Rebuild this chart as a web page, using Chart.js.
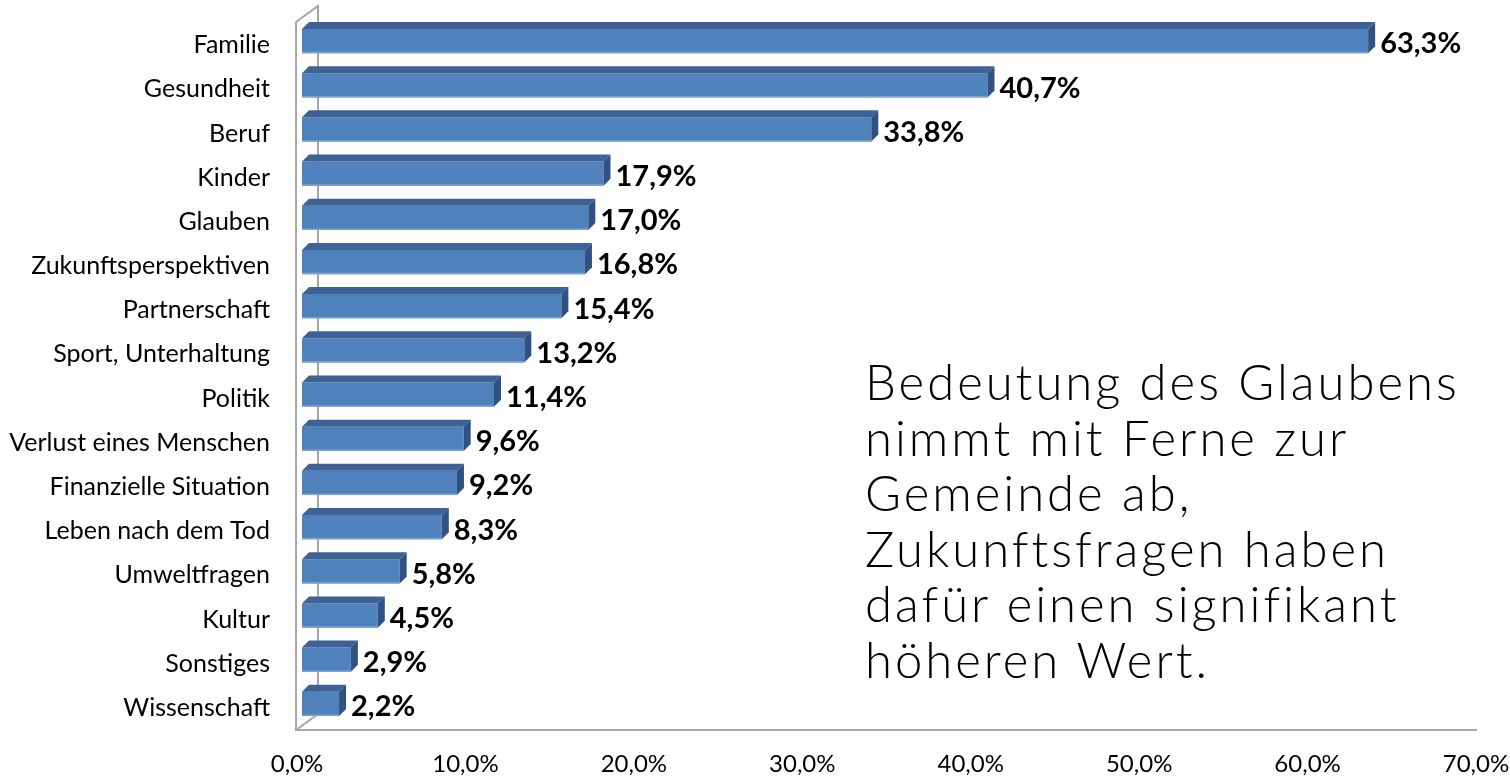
<!DOCTYPE html>
<html>
<head>
<meta charset="utf-8">
<script src="https://cdn.jsdelivr.net/npm/chart.js@4.4.1/dist/chart.umd.min.js"></script>
<style>
    body { margin: 0; background: #fff; }
    #wrap { position: relative; width: 1510px; height: 776px; }
    #note {
        position: absolute; left: 865px; top: 354px;
        font-family: Lato, sans-serif; font-weight: 300;
        font-size: 49px; line-height: 55.6px; letter-spacing: 3px; color: #000;
        white-space: nowrap;
    }
</style>
</head>
<body>
<div id="wrap">
    <canvas id="barChart"></canvas>
    <div id="note">Bedeutung des Glaubens<br>nimmt mit Ferne zur<br>Gemeinde ab,<br>Zukunftsfragen haben<br>dafür einen signifikant<br>höheren Wert.</div>
</div>
<script>
// Chart data
var categories = ["Familie", "Gesundheit", "Beruf", "Kinder", "Glauben", "Zukunftsperspektiven",
    "Partnerschaft", "Sport, Unterhaltung", "Politik", "Verlust eines Menschen", "Finanzielle Situation",
    "Leben nach dem Tod", "Umweltfragen", "Kultur", "Sonstiges", "Wissenschaft"];
var values = [63.3, 40.7, 33.8, 17.9, 17.0, 16.8, 15.4, 13.2, 11.4, 9.6, 9.2, 8.3, 5.8, 4.5, 2.9, 2.2];
var xTicks = [0, 10, 20, 30, 40, 50, 60, 70];

var DEPTH = 7;

function pct(v) {
    return v.toFixed(1).replace('.', ',') + '%';
}

// no automatic padding for tick labels, the layout is fixed
function noPad(scale) {
    scale.paddingTop = 0;
    scale.paddingBottom = 0;
    scale.paddingLeft = 0;
    scale.paddingRight = 0;
}

// 3D frame (wall and floor lines)
var framePlugin = {
    id: 'frame',
    beforeDatasetsDraw: function (chart) {
        var a = chart.chartArea;
        var ctx = chart.ctx;
        var fl = a.left - 6, fb = a.bottom + 4;
        var bl = a.left + 16, bb = a.bottom - 12;
        ctx.save();
        ctx.strokeStyle = '#a6a6a6';
        ctx.lineWidth = 2;
        ctx.beginPath();
        ctx.moveTo(fl, a.top + 3);
        ctx.lineTo(fl, fb);
        ctx.lineTo(a.right - 4, fb);
        ctx.moveTo(fl, a.top + 3);
        ctx.lineTo(bl, a.top - 13);
        ctx.lineTo(bl, bb);
        ctx.lineTo(fl, fb);
        ctx.stroke();
        ctx.restore();
    }
};

// Top and side faces of the bars, plus value labels
var boxPlugin = {
    id: 'box',
    afterDatasetsDraw: function (chart) {
        var ctx = chart.ctx;
        var meta = chart.getDatasetMeta(0);
        ctx.save();
        meta.data.forEach(function (bar, i) {
            var top = bar.y - bar.height / 2;
            var bot = bar.y + bar.height / 2;
            ctx.fillStyle = '#3d6293';
            ctx.beginPath();
            ctx.moveTo(bar.base, top);
            ctx.lineTo(bar.base + DEPTH, top - DEPTH);
            ctx.lineTo(bar.x + DEPTH, top - DEPTH);
            ctx.lineTo(bar.x, top);
            ctx.closePath();
            ctx.fill();
            ctx.fillStyle = '#2f5280';
            ctx.beginPath();
            ctx.moveTo(bar.x, top);
            ctx.lineTo(bar.x + DEPTH, top - DEPTH);
            ctx.lineTo(bar.x + DEPTH, bot - DEPTH);
            ctx.lineTo(bar.x, bot);
            ctx.closePath();
            ctx.fill();
            ctx.fillStyle = '#7fa3d1';
            ctx.fillRect(bar.base, bot - 1.5, bar.x - bar.base, 1.5);

            ctx.fillStyle = '#000';
            ctx.font = 'bold 29px Lato';
            ctx.textAlign = 'left';
            ctx.textBaseline = 'middle';
            ctx.fillText(pct(values[i]), bar.x + DEPTH + 5, bar.y + 3);
        });
        ctx.restore();
    }
};

document.addEventListener('DOMContentLoaded', function () {
    var ctxB = document.getElementById('barChart').getContext('2d');
    var myBarChart = new Chart(ctxB, {
        type: 'bar',
        data: {
            labels: categories,
            datasets: [{
                data: values,
                backgroundColor: '#4f81bd',
                borderWidth: 0,
                barPercentage: 0.55,
                categoryPercentage: 1
            }]
        },
        options: {
            indexAxis: 'y',
            responsive: true,
            maintainAspectRatio: false,
            animation: false,
            layout: { padding: { top: 19, right: 29, left: 0, bottom: 0 } },
            plugins: {
                legend: { display: false },
                tooltip: { enabled: false }
            },
            scales: {
                x: {
                    min: 0,
                    max: 70,
                    afterBuildTicks: function (scale) {
                        scale.ticks = xTicks.map(function (v) { return { value: v }; });
                    },
                    afterFit: function (scale) {
                        scale.height = 50;
                        noPad(scale);
                    },
                    grid: { display: false },
                    border: { display: false },
                    ticks: {
                        color: '#000',
                        font: { family: 'Lato', size: 24 },
                        padding: 16,
                        labelOffset: -5,
                        maxRotation: 0,
                        callback: function (v) { return pct(v); }
                    }
                },
                y: {
                    afterFit: function (scale) {
                        scale.width = 302;
                        noPad(scale);
                    },
                    grid: { display: false },
                    border: { display: false },
                    ticks: {
                        color: '#000',
                        font: { family: 'Lato', size: 25 },
                        padding: 24,
                        labelOffset: 4
                    }
                }
            }
        },
        plugins: [framePlugin, boxPlugin]
    });
});
</script>
</body>
</html>
